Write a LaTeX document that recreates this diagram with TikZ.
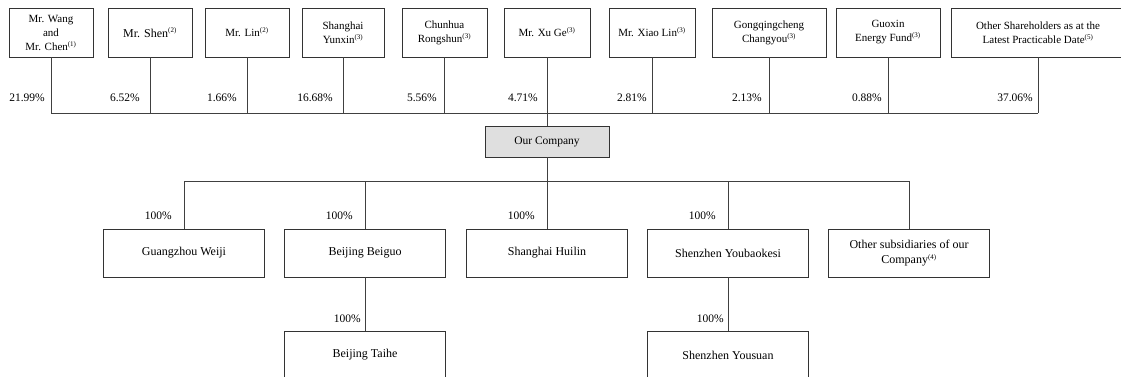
\documentclass[tikz,border=0pt]{standalone}
\usepackage{fontspec}
\setmainfont{Liberation Serif}
\newcommand{\noteref}[1]{\textsuperscript{\fontsize{7}{7}\selectfont(#1)}}

\begin{document}
\begin{tikzpicture}[x=1pt,y=-1pt]
			\useasboundingbox (0,0) rectangle (1121,376);
			% shareholders
			\begin{scope}[every node/.style={draw=black!80, line width=0.9pt, rectangle, minimum height=49, inner sep=0, align=center, font=\fontsize{11}{14}\selectfont}]
				\node (wangchen)[minimum width=84] at (51,32.5) {Mr. Wang\\and\\Mr. Chen\noteref{1}};
				\node (shen)[minimum width=84, font=\fontsize{12}{14}\selectfont] at (150,32.5) {Mr. Shen\noteref{2}};
				\node (lin)[minimum width=84] at (247,32.5) {Mr. Lin\noteref{2}};
				\node (yunxin)[minimum width=82] at (343,32.5) {Shanghai\\Yunxin\noteref{3}};
				\node (rongshun)[minimum width=85] at (444.5,32.5) {Chunhua\\Rongshun\noteref{3}};
				\node (xuge)[minimum width=86] at (547,32.5) {Mr. Xu Ge\noteref{3}};
				\node (xiaolin)[minimum width=86] at (652,32.5) {Mr. Xiao Lin\noteref{3}};
				\node (changyou)[minimum width=114] at (769,32.5) {Gongqingcheng\\Changyou\noteref{3}};
				\node (guoxin)[minimum width=104] at (888,32.5) {Guoxin\\Energy Fund\noteref{3}};
				\node (others)[minimum width=174] at (1038,32.5) {Other Shareholders as at the\\Latest Practicable Date\noteref{5}};
			\end{scope}
			% company and subsidiaries
			\begin{scope}[every node/.style={draw=black!80, line width=0.9pt, rectangle, minimum width=161, minimum height=48, inner sep=0, align=center, font=\fontsize{12}{15}\selectfont}]
				\node (company)[fill=gray!25, minimum width=124, minimum height=31, font=\fontsize{11.5}{14}\selectfont] at (547,141.5) {Our Company};
				\node (weiji) at (184,253) {Guangzhou Weiji};
				\node (beiguo) at (365,253) {Beijing Beiguo};
				\node (huilin) at (547,253) {Shanghai Huilin};
				\node (youbaokesi) at (728,253) {Shenzhen Youbaokesi};
				\node (othersubs) at (909,253) {Other subsidiaries of our\\Company\noteref{4}};
				\node (taihe) at (365,355) {Beijing Taihe};
				\node (yousuan) at (728,355) {Shenzhen Yousuan};
			\end{scope}
			\coordinate (topbus) at (51,113);
			\coordinate (subbus) at (184,181);
			% percentages
			\begin{scope}[every node/.style={anchor=east, inner sep=0, font=\fontsize{11.5}{13}\selectfont}]
				\node (p1) at (45,98) {21.99\%};
				\node (p2) at (140,98) {6.52\%};
				\node (p3) at (237,98) {1.66\%};
				\node (p4) at (333,98) {16.68\%};
				\node (p5) at (437,98) {5.56\%};
				\node (p6) at (538,98) {4.71\%};
				\node (p7) at (647,98) {2.81\%};
				\node (p8) at (762,98) {2.13\%};
				\node (p9) at (882,98) {0.88\%};
				\node (p10) at (1033,98) {37.06\%};
				\node (s1) at (172,216) {100\%};
				\node (s2) at (353,216) {100\%};
				\node (s3) at (535,216) {100\%};
				\node (s4) at (716,216) {100\%};
				\node (s5) at (361,319) {100\%};
				\node (s6) at (724,319) {100\%};
			\end{scope}
			\begin{scope}[every edge/.style={draw=black!75, line width=0.8pt}]
				\path [-] (wangchen) edge (wangchen |- topbus);
				\path [-] (shen) edge (shen |- topbus);
				\path [-] (lin) edge (lin |- topbus);
				\path [-] (yunxin) edge (yunxin |- topbus);
				\path [-] (rongshun) edge (rongshun |- topbus);
				\path [-] (xiaolin) edge (xiaolin |- topbus);
				\path [-] (changyou) edge (changyou |- topbus);
				\path [-] (guoxin) edge (guoxin |- topbus);
				\path [-] (others) edge (others |- topbus);
				\path [-] (topbus) edge (others.south |- topbus);
				\path [-] (xuge) edge (company);
				\path [-] (company) edge (company |- subbus);
				\path [-] (subbus) edge (othersubs |- subbus);
				\path [-] (weiji |- subbus) edge (weiji);
				\path [-] (beiguo |- subbus) edge (beiguo);
				\path [-] (huilin |- subbus) edge (huilin);
				\path [-] (youbaokesi |- subbus) edge (youbaokesi);
				\path [-] (othersubs |- subbus) edge (othersubs);
				\path [-] (beiguo) edge (taihe);
				\path [-] (youbaokesi) edge (yousuan);
			\end{scope}
		\end{tikzpicture}
\end{document}
